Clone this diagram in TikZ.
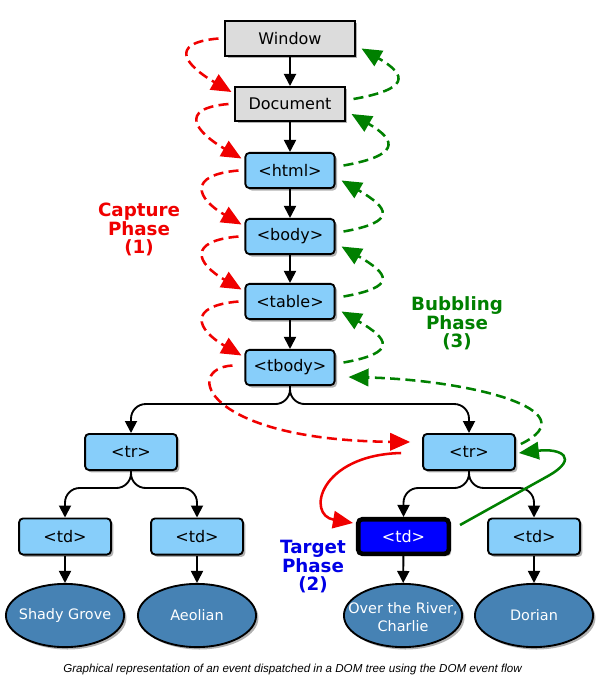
\documentclass[tikz,border=0pt]{standalone}
\usepackage{fontspec}
\setmainfont{DejaVu Sans}
\newfontfamily\capfont{Liberation Sans}
\usetikzlibrary{shadows,arrows.meta,calc,shapes.geometric}
\definecolor{boxblue}{HTML}{87CEFA}
\definecolor{boxgray}{HTML}{DCDCDC}
\definecolor{ellblue}{HTML}{4682B4}
\definecolor{capred}{HTML}{F00000}
\definecolor{bubgreen}{HTML}{008000}
\definecolor{tgtblue}{HTML}{0000E6}
\begin{document}
\begin{tikzpicture}[x=0.75pt,y=0.75pt,
  shad/.style={drop shadow={shadow xshift=1.8pt,shadow yshift=-1.8pt,fill=black,opacity=0.3}},
  boxtext/.style={font=\fontsize{12}{14}\selectfont},
  gbox/.style={rectangle,draw=black,line width=1.4pt,fill=boxgray,inner sep=0pt,boxtext,shad},
  bbox/.style={rectangle,rounded corners=3pt,draw=black,line width=1.4pt,fill=boxblue,inner sep=0pt,boxtext,shad,minimum width=68.9pt,minimum height=27.1pt},
  topbox/.style={bbox,minimum width=66.9pt,minimum height=26.4pt},
  tgtbox/.style={rectangle,rounded corners=3pt,draw=black,line width=3.4pt,fill=blue,text=white,inner sep=0pt,boxtext,shad,minimum width=67.9pt,minimum height=25.9pt},
  ell/.style={ellipse,draw=black,line width=1.4pt,fill=ellblue,inner sep=0pt,minimum width=88.6pt,minimum height=47.4pt,shad},
  elltext/.style={text=white,align=center,inner sep=0pt,font=\fontsize{10.8}{13.5}\selectfont},
  phase/.style={align=center,font=\bfseries\fontsize{13.7}{13.9}\selectfont},
  tree/.style={draw=black,line width=1.4pt,rounded corners=11pt,-{Triangle[length=9pt,width=9pt]}},
  capt/.style={draw=capred,line width=1.9pt,dash pattern=on 7.5pt off 4pt,-{Triangle[length=15pt,width=13pt]}},
  bub/.style={draw=bubgreen,line width=1.9pt,dash pattern=on 7.5pt off 4pt,-{Triangle[length=15pt,width=13pt]}},
  tgt/.style={draw=capred,line width=1.9pt,-{Triangle[length=15pt,width=13pt]}},
  tgtg/.style={draw=bubgreen,line width=1.9pt,-{Triangle[length=15pt,width=13pt]}}
]
\fill[white] (0,0) rectangle (600,-681);
\useasboundingbox (0,0) rectangle (600,-681);

% nodes
\node[gbox,minimum width=96.9pt,minimum height=26.4pt] (win) at (290,-38.5) {Window};
\node[gbox,minimum width=81.9pt,minimum height=25.6pt] (doc) at (290,-104) {Document};
\node[topbox] (html) at (290,-170.5) {<html>};
\node[topbox] (body) at (290,-236.5) {<body>};
\node[topbox] (table) at (290,-301.5) {<table>};
\node[topbox] (tbody) at (290,-367.5) {<tbody>};
\node[bbox] (trL) at (131,-452) {<tr>};
\node[bbox] (trR) at (469,-452) {<tr>};
\node[bbox] (tdA) at (65,-536.5) {<td>};
\node[bbox] (tdB) at (197,-536.5) {<td>};
\node[tgtbox] (tdT) at (403.5,-536.5) {<td>};
\node[bbox] (tdD) at (534,-536.5) {<td>};
\node[ell,label={[elltext]center:Shady Grove}] (eA) at (65,-615.5) {};
\node[ell,label={[elltext]center:Aeolian}] (eB) at (197,-615.5) {};
\node[ell,label={[elltext,yshift=-1pt]center:Over the River,\\Charlie}] (eT) at (403,-615.5) {};
\node[ell,label={[elltext]center:Dorian}] (eD) at (534,-615.5) {};

% phase labels
\node[phase,text=capred] (lcap) at (139,-229.5) {Capture\\Phase\\(1)};
\node[phase,text=bubgreen] (lbub) at (457,-323.5) {Bubbling\\Phase\\(3)};
\node[phase,text=tgtblue] (ltgt) at (313,-567) {Target\\Phase\\(2)};

% tree connectors
\draw[tree] (win) -- (doc);
\draw[tree] (doc) -- (html);
\draw[tree] (html) -- (body);
\draw[tree] (body) -- (table);
\draw[tree] (table) -- (tbody);
\draw[tree] (tbody.south) -- ++(0,-18) -| (trL.north);
\draw[tree] (tbody.south) -- ++(0,-18) -| (trR.north);
\draw[tree] (trL.south) -- ++(0,-17) -| (tdA.north);
\draw[tree] (trL.south) -- ++(0,-17) -| (tdB.north);
\draw[tree] (trR.south) -- ++(0,-17) -| (tdT.north);
\draw[tree] (trR.south) -- ++(0,-17) -| (tdD.north);
\draw[tree] (tdA) -- (eA);
\draw[tree] (tdB) -- (eB);
\draw[tree] (tdT) -- (eT);
\draw[tree] (tdD) -- (eD);

% capture phase arcs
\foreach \a/\b in {win/doc,doc/html,html/body,body/table,table/tbody}
  \draw[capt] ($(\a.west)+(-6,0)$) .. controls +(185:52) and +(150:52) .. ($(\b.west)+(-3,12)$);
% bubbling phase arcs
\foreach \a/\b in {win/doc,doc/html,html/body,body/table,table/tbody}
  \draw[bub] ($(\b.east)+(8,5)$) .. controls +(10:55) and +(-30:55) .. ($(\a.east)+(6,-10)$);

% tbody -> right tr (capture)
\draw[capt] ($(tbody.west)+(-12,2)$) .. controls +(-50,-3) and +(-206,2) .. ($(trR.west)+(-12,10)$);
% right tr -> tbody (bubbling)
\draw[bub] ($(trR.east)+(5,8)$) .. controls +(70,34) and +(120,-3) .. ($(tbody.east)+(13,-9.5)$);
% target phase
\draw[tgt] ($(trR.west)+(-21,-1)$) .. controls +(-82,-2) and +(-47,8) .. ($(tdT.west)+(-3,13.5)$);
\draw[tgtg] ($(tdT.east)+(9,11.5)$) -- ++(88,49) .. controls +(32,18) and +(42,5) .. ($(trR.east)+(3,-1)$);

% caption
\node[font=\capfont\itshape\fontsize{8.7}{10}\selectfont] (caption) at (292.5,-669) {Graphical representation of an event dispatched in a DOM tree using the DOM event flow};
\end{tikzpicture}
\end{document}
